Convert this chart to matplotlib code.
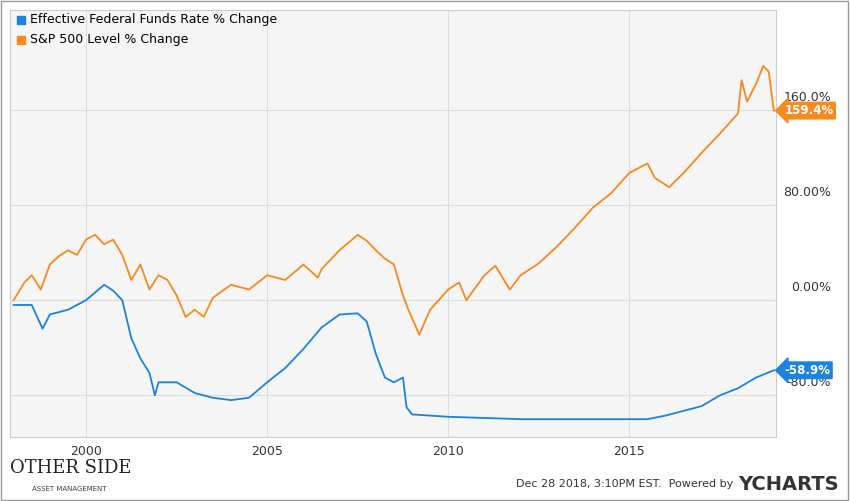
import matplotlib.pyplot as plt
import matplotlib.transforms as mtransforms
from matplotlib.patches import Rectangle

sp_x = [1998.0, 1998.3, 1998.5, 1998.75, 1999.0, 1999.25, 1999.5, 1999.75, 2000.0, 2000.25, 2000.5,
        2000.75, 2001.0, 2001.25, 2001.5, 2001.75, 2002.0, 2002.25, 2002.5, 2002.75, 2003.0, 2003.25,
        2003.5, 2004.0, 2004.5, 2005.0, 2005.5, 2006.0, 2006.4, 2006.5, 2007.0, 2007.5, 2007.75,
        2008.0, 2008.25, 2008.5, 2008.75, 2008.9, 2009.2, 2009.5, 2010.0, 2010.3, 2010.5, 2011.0,
        2011.3, 2011.7, 2012.0, 2012.5, 2013.0, 2013.5, 2014.0, 2014.5, 2015.0, 2015.5, 2015.7,
        2016.1, 2016.5, 2017.0, 2017.5, 2018.0, 2018.1, 2018.25, 2018.5, 2018.7, 2018.85, 2018.99]
sp_y = [0, 15, 21, 9, 30, 37, 42, 38, 51, 55, 47,
        51, 38, 17, 30, 9, 21, 17, 4, -14, -8, -14,
        2, 13, 9, 21, 17, 30, 19, 26, 42, 55, 50,
        42, 35, 30, 4, -8, -29, -8, 9, 15, 0, 21,
        29, 9, 21, 31, 45, 61, 78, 90, 107, 115, 103,
        95, 107, 124, 140, 157, 185, 167, 182, 197, 192, 159.4]

ff_x = [1998.0, 1998.5, 1998.8, 1999.0, 1999.5, 2000.0, 2000.5, 2000.75, 2001.0, 2001.25, 2001.5,
        2001.75, 2001.9, 2002.0, 2002.5, 2003.0, 2003.5, 2004.0, 2004.5, 2005.0, 2005.5, 2006.0,
        2006.5, 2007.0, 2007.5, 2007.75, 2008.0, 2008.25, 2008.5, 2008.75, 2008.85, 2009.0, 2010.0,
        2012.0, 2015.5, 2016.0, 2017.0, 2017.5, 2018.0, 2018.5, 2018.99]
ff_y = [-4, -4, -24, -12, -8, 0, 13, 8, 0, -32, -49,
        -61, -80, -69, -69, -78, -82, -84, -82, -69, -57, -41,
        -23, -12, -11, -18, -45, -65, -69, -65, -90, -96, -98,
        -100, -100, -97, -89, -80, -74, -65, -58.9]

orange = '#f7891e'
blue = '#1b82dd'

fig = plt.figure(figsize=(8.5, 5.01), dpi=100)
ax = fig.add_axes([10/850, 64/501, 766/850, 427/501])
ax.set_facecolor('#f5f5f5')
ax.plot(sp_x, sp_y, color=orange, lw=1.3)
ax.plot(ff_x, ff_y, color=blue, lw=1.3)
ax.set_xlim(1997.9, 2019.05)
ax.set_ylim(-115, 244)
ax.set_xticks([2000, 2005, 2010, 2015])
ax.set_yticks([-80, 0, 80, 160])
ax.set_yticklabels(['-80.0%', '0.00%', '80.00%', '160.0%'])
ax.yaxis.tick_right()
ax.tick_params(length=0, labelsize=9, colors='#333333')
ax.tick_params(axis='y', pad=44)
ax.tick_params(axis='x', pad=6)
shift = mtransforms.ScaledTranslation(-6/100, 6/100, fig.dpi_scale_trans)
for t in ax.get_yticklabels():
    t.set_va('bottom')
    t.set_ha('right')
    t.set_transform(t.get_transform() + shift)
ax.grid(color='#dddddd', lw=0.8)
for s in ax.spines.values():
    s.set_color('#cccccc')

for val, col in [(159.4, orange), (-58.9, blue)]:
    ax.annotate(f'{val}%', xy=(1, val), xycoords=('axes fraction', 'data'),
                xytext=(6, 0), textcoords='offset points', va='center', ha='left',
                color='white', fontsize=8.5, fontweight='bold',
                bbox=dict(boxstyle='larrow,pad=0.15', fc=col, ec=col))

fig.patches.append(Rectangle((17/850, 1 - 24/501), 8/850, 8/501, transform=fig.transFigure, color=blue))
fig.text(30/850, 1 - 20/501, 'Effective Federal Funds Rate % Change', fontsize=9, va='center')
fig.patches.append(Rectangle((17/850, 1 - 44/501), 8/850, 8/501, transform=fig.transFigure, color=orange))
fig.text(30/850, 1 - 40/501, 'S&P 500 Level % Change', fontsize=9, va='center')

fig.text(10/850, 28/501, 'OTHER SIDE', fontsize=13, family='DejaVu Serif', color='#222222')
fig.text(32/850, 10/501, 'ASSET MANAGEMENT', fontsize=5, color='#444444')
fig.text(733/850, 14/501, 'Dec 28 2018, 3:10PM EST.  Powered by', fontsize=8, color='#333333', ha='right')
fig.text(738/850, 11/501, 'YCHARTS', fontsize=14, fontweight='bold', color='#333333')

fig.patches.append(Rectangle((0.001, 0.001), 0.997, 0.997, transform=fig.transFigure,
                             fill=False, ec='#999999', lw=1))
fig.savefig('out.png')
